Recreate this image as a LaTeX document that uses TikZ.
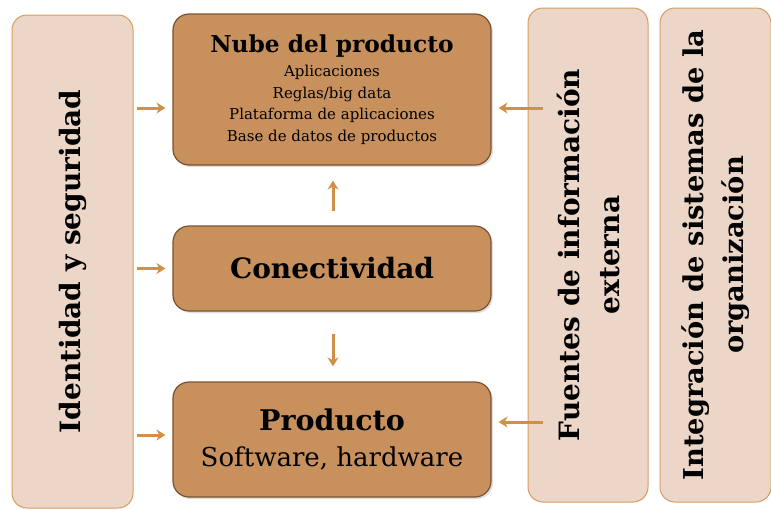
\documentclass[tikz,border=0pt]{standalone}
\usepackage{fontspec}
\setmainfont{DejaVu Serif}
\usepackage{tikz}
\usetikzlibrary{positioning,calc,arrows.meta,shadows}
\definecolor{boxfill}{HTML}{C8905C}
\definecolor{boxline}{HTML}{7A5230}
\definecolor{sidefill}{HTML}{EBD6C7}
\definecolor{sideline}{HTML}{D69C62}
\definecolor{arrcol}{HTML}{D28F48}
\newcommand*{\fsz}[2]{\fontsize{#1}{#2}\selectfont}

\begin{document}
\begin{tikzpicture}[x=1pt,y=-1pt,
  mainbox/.style={draw=boxline,line width=1.2pt,fill=boxfill,rounded corners=16pt,
    minimum width=318pt,inner sep=0pt,align=center,
    drop shadow={shadow xshift=2pt,shadow yshift=-2pt,opacity=0.25}},
  sidebox/.style={draw=sideline,line width=1pt,fill=sidefill,rounded corners=15pt,
    inner sep=0pt,align=center,rotate=90,font=\bfseries\fsz{28}{40}},
  arr/.style={arrcol,line width=3pt,-{Stealth[length=9pt,width=11pt]}}]
\useasboundingbox (0,0) rectangle (771,509);
% Side boxes (text runs upwards)
\node[sidebox,minimum width=493pt,minimum height=121pt] (ident) at (72.5,261.5)
  {Identidad y seguridad};
\node[sidebox,minimum width=494pt,minimum height=120pt] (fuentes) at (588,255)
  {Fuentes de información\\externa};
\node[sidebox,minimum width=494pt,minimum height=111pt,font=\bfseries\fsz{27.3}{40}] (integ)
  at (715.5,255) {Integración de sistemas de la\\organización};
% Central stack
\node[mainbox,minimum height=151pt,font=\fsz{15}{21.5}] (nube) at (332,89.5)
  {{\bfseries\fsz{23.3}{21.5}Nube del producto}\\[3pt]
   Aplicaciones\\
   Reglas/big data\\
   Plataforma de aplicaciones\\
   Base de datos de productos};
\node[mainbox,minimum height=85pt,font=\bfseries\fsz{28}{34}] (conect) at (332,268.5)
  {Conectividad};
\node[mainbox,minimum height=115pt,font=\fsz{26}{36}] (producto) at (332,439.5)
  {{\bfseries\fsz{28.5}{36}Producto}\\Software, hardware};
%% Arrows from the left box
\coordinate (n-in) at ([xshift=-7pt,yshift=-18.5pt]nube.west);
\coordinate (c-in) at ([xshift=-7pt]conect.west);
\coordinate (p-in) at ([xshift=-7pt,yshift=4.5pt]producto.west);
\foreach \t in {n-in,c-in,p-in}
  \draw[arr] ([xshift=3pt]ident.south |- \t) -- (\t);
%% Arrows from external sources
\coordinate (n-out) at ([xshift=7pt,yshift=-18.5pt]nube.east);
\coordinate (p-out) at ([xshift=7pt,yshift=17.5pt]producto.east);
\foreach \t in {n-out,p-out}
  \draw[arr] ([xshift=15pt]fuentes.north |- \t) -- (\t);
%% Arrows between central boxes
\draw[arr] ([xshift=1pt,yshift=14pt]conect.north) -- ([xshift=1pt,yshift=-15pt]nube.south);
\draw[arr] ([xshift=1pt,yshift=-22pt]conect.south) -- ([xshift=1pt,yshift=15pt]producto.north);
\end{tikzpicture}
\end{document}
